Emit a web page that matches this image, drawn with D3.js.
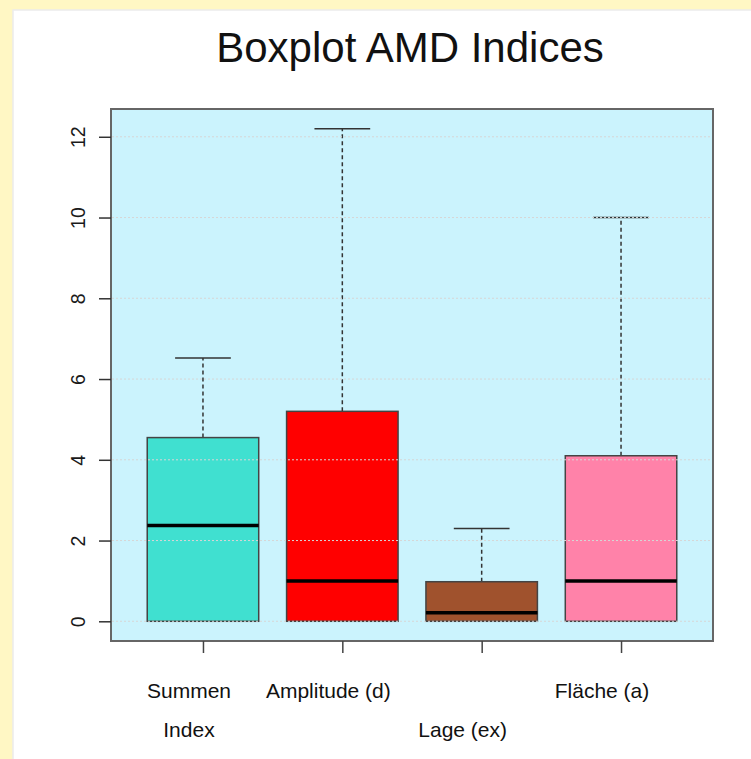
<!DOCTYPE html>
<html>
<head>
<meta charset="utf-8">
<script src="https://cdn.jsdelivr.net/npm/d3@7/dist/d3.min.js"></script>
<style>
  html, body { margin: 0; padding: 0; background: #fff7c4; }
  svg { display: block; }
</style>
</head>
<body>
<svg id="chart" width="751" height="759"></svg>
<script>
// ---- data ----
const categories = ["Summen Index", "Amplitude (d)", "Lage (ex)", "Fläche (a)"];
const labelLines = [["Summen", "Index"], ["Amplitude (d)"], ["", "Lage (ex)"], ["Fläche (a)"]];
const mins    = [0, 0, 0, 0];
const q1s     = [0, 0, 0, 0];
const medians = [2.37, 1.0, 0.21, 1.0];
const q3s     = [4.55, 5.2, 0.98, 4.1];
const maxs    = [6.52, 12.2, 2.3, 10.0];
const colors  = ["#40e0d0", "#ff0000", "#a0522d", "#ff82a9"];
const yTicks  = [0, 2, 4, 6, 8, 10, 12];
const title   = "Boxplot AMD Indices";

// ---- layout ----
const svg = d3.select("#chart");
const FONT = "'Liberation Sans', Arial, Helvetica, sans-serif";
const plot = { left: 111, right: 713, top: 109, bottom: 641 };

// white panel
svg.append("rect").attr("x", 13).attr("y", 10).attr("width", 760).attr("height", 760)
  .attr("fill", "#ffffff").attr("stroke", "#ececec").attr("stroke-width", 1.5);

const dataMax = d3.max(maxs), dataMin = d3.min(mins);
const pad = (dataMax - dataMin) * 0.04;
const y = d3.scaleLinear().domain([dataMin - pad, dataMax + pad]).range([plot.bottom, plot.top]);
const n = categories.length;
const xpad = n * 0.04;
const x = d3.scaleLinear().domain([0.5 - xpad, n + 0.5 + xpad]).range([plot.left, plot.right]);
const boxW = (x(1.8) - x(1)); // boxwex 0.8
const capW = boxW * 0.5;

// plot background
svg.append("rect").attr("x", plot.left).attr("y", plot.top)
  .attr("width", plot.right - plot.left).attr("height", plot.bottom - plot.top)
  .attr("fill", "#cbf3fd");

const g = svg.append("g");
categories.forEach((c, i) => {
  const cx = x(i + 1);
  // whiskers
  g.append("line").attr("x1", cx).attr("x2", cx).attr("y1", y(q3s[i])).attr("y2", y(maxs[i]))
    .attr("stroke", "#333").attr("stroke-width", 1.5).attr("stroke-dasharray", "4,3");
  g.append("line").attr("x1", cx).attr("x2", cx).attr("y1", y(mins[i])).attr("y2", y(q1s[i]))
    .attr("stroke", "#333").attr("stroke-width", 1.5).attr("stroke-dasharray", "4,3");
  // cap
  g.append("line").attr("x1", cx - capW / 2).attr("x2", cx + capW / 2).attr("y1", y(maxs[i])).attr("y2", y(maxs[i]))
    .attr("stroke", "#333").attr("stroke-width", 1.5);
  // box
  g.append("rect").attr("x", cx - boxW / 2).attr("width", boxW)
    .attr("y", y(q3s[i])).attr("height", y(q1s[i]) - y(q3s[i]))
    .attr("fill", colors[i]).attr("stroke", "#444").attr("stroke-width", 1.5);
  // median
  g.append("line").attr("x1", cx - boxW / 2).attr("x2", cx + boxW / 2)
    .attr("y1", y(medians[i])).attr("y2", y(medians[i]))
    .attr("stroke", "#000").attr("stroke-width", 3.5);
});

// grid on top (dotted)
svg.append("g").selectAll("line").data(yTicks).join("line")
  .attr("x1", plot.left + 1).attr("x2", plot.right - 1)
  .attr("y1", d => y(d)).attr("y2", d => y(d))
  .attr("stroke", "#d6d6d6").attr("stroke-width", 1).attr("stroke-dasharray", "2,2");

// plot frame
svg.append("rect").attr("x", plot.left).attr("y", plot.top)
  .attr("width", plot.right - plot.left).attr("height", plot.bottom - plot.top)
  .attr("fill", "none").attr("stroke", "#666").attr("stroke-width", 2);

// y axis
const yAxis = svg.append("g").attr("transform", `translate(${plot.left},0)`)
  .call(d3.axisLeft(y).tickValues(yTicks).tickSize(12).tickPadding(0).tickFormat(d3.format("d")));
yAxis.select(".domain").remove();
yAxis.selectAll(".tick line").attr("stroke", "#333").attr("stroke-width", 1.5);
yAxis.selectAll(".tick text").remove();
yAxis.selectAll(".tick").append("text")
  .attr("transform", "translate(-26,0) rotate(-90)")
  .attr("text-anchor", "middle").attr("dy", 0)
  .attr("fill", "#1a1a1a").style("font-family", FONT).style("font-size", "19.5px")
  .text(d => d3.format("d")(d));

// x axis
const xAxis = svg.append("g").attr("transform", `translate(0,${plot.bottom})`)
  .call(d3.axisBottom(x).tickValues(d3.range(1, n + 1)).tickSize(12).tickFormat(""));
xAxis.select(".domain").remove();
xAxis.selectAll(".tick line").attr("stroke", "#444").attr("stroke-width", 1.5);

// category labels
const lab = svg.append("g");
labelLines.forEach((lines, i) => {
  lines.forEach((t, j) => {
    if (!t) return;
    lab.append("text").attr("x", x(i + 1) - 14 - (i >= 2 ? 5 : 0)).attr("y", plot.bottom + 57 + j * 39)
      .attr("text-anchor", "middle").attr("fill", "#111")
      .style("font-family", FONT).style("font-size", "21px").text(t);
  });
});

// title
svg.append("text").attr("x", (plot.left + plot.right) / 2 - 2).attr("y", 62)
  .attr("text-anchor", "middle").attr("fill", "#111")
  .style("font-family", FONT).style("font-size", "42px").text(title);
</script>
</body>
</html>
